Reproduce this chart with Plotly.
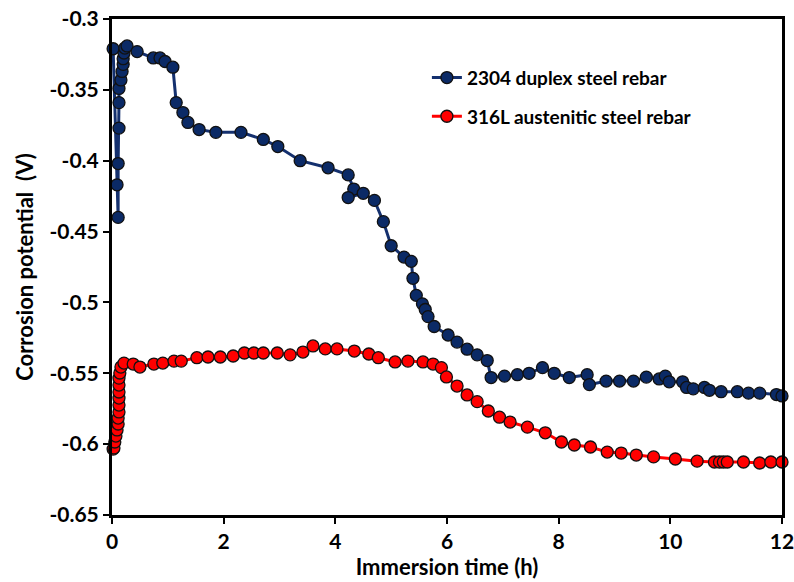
import plotly.graph_objects as go

# 2304 duplex steel rebar
duplex_t = [0.02, 0.09, 0.11, 0.11, 0.125, 0.125, 0.125, 0.16, 0.18, 0.2, 0.2, 0.215, 0.23, 0.27,
            0.45, 0.74, 0.86, 0.95, 1.09, 1.15, 1.27, 1.36, 1.56, 1.86, 2.31, 2.71, 2.97, 3.37,
            3.87, 4.23, 4.33, 4.23, 4.5, 4.7, 4.86, 5.0, 5.23, 5.36, 5.39, 5.45, 5.56, 5.61,
            5.66, 5.77, 6.02, 6.18, 6.36, 6.54, 6.72, 6.79, 7.03, 7.26, 7.47, 7.71, 7.92,
            8.19, 8.51, 8.55, 8.85, 9.09, 9.34, 9.57, 9.8, 9.91, 9.98, 10.22, 10.29, 10.41,
            10.61, 10.7, 10.91, 11.2, 11.4, 11.6, 11.9, 12.0]
duplex_v = [-0.321, -0.417, -0.440, -0.402, -0.377, -0.359, -0.349, -0.343, -0.337, -0.332, -0.328,
            -0.324, -0.3205, -0.319, -0.323, -0.3275, -0.3275, -0.330, -0.334, -0.359, -0.366,
            -0.373, -0.378, -0.380, -0.380, -0.385, -0.390, -0.400, -0.405, -0.410, -0.420,
            -0.426, -0.423, -0.428, -0.443, -0.460, -0.468, -0.471, -0.483, -0.495, -0.501,
            -0.505, -0.510, -0.517, -0.523, -0.528, -0.533, -0.537, -0.541, -0.553, -0.552,
            -0.551, -0.550, -0.546, -0.550, -0.553, -0.551, -0.558, -0.5555, -0.5555, -0.5555,
            -0.5527, -0.554, -0.552, -0.556, -0.556, -0.560, -0.561, -0.560, -0.562, -0.563,
            -0.563, -0.564, -0.564, -0.565, -0.566]

# 316L austenitic steel rebar
aust_t = [0.02, 0.035, 0.05, 0.07, 0.09, 0.11, 0.11, 0.125, 0.125, 0.125, 0.125, 0.125, 0.125,
          0.14, 0.16, 0.215, 0.38, 0.5, 0.75, 0.91, 1.11, 1.24, 1.52, 1.72, 1.94, 2.17, 2.37,
          2.54, 2.71, 2.96, 3.19, 3.42, 3.6, 3.82, 4.03, 4.34, 4.6, 4.77, 5.07, 5.3, 5.57,
          5.75, 5.9, 5.99, 6.18, 6.36, 6.54, 6.74, 6.94, 7.13, 7.44, 7.76, 8.05, 8.28, 8.57,
          8.87, 9.12, 9.39, 9.7, 10.09, 10.48, 10.79, 10.88, 10.95, 11.02, 11.31, 11.6, 11.8, 12.0]
aust_v = [-0.6035, -0.6027, -0.5985, -0.5943, -0.590, -0.5858, -0.5816, -0.5773, -0.5724, -0.5675,
          -0.5632, -0.5583, -0.5534, -0.5498, -0.5456, -0.5428, -0.5435, -0.5456, -0.5435,
          -0.5428, -0.5414, -0.5414, -0.539, -0.5385, -0.5385, -0.5378, -0.5357, -0.5357,
          -0.5357, -0.5357, -0.537, -0.535, -0.5307, -0.5328, -0.5328, -0.5343, -0.5364,
          -0.539, -0.542, -0.5414, -0.542, -0.5435, -0.546, -0.5526, -0.559, -0.5653, -0.570,
          -0.5766, -0.581, -0.5844, -0.588, -0.592, -0.5985, -0.6006, -0.602, -0.6056,
          -0.6063, -0.6077, -0.609, -0.6105, -0.612, -0.6126, -0.6126, -0.6126, -0.6126,
          -0.6126, -0.6133, -0.6126, -0.6126]

series_names = ["2304 duplex steel rebar", "316L austenitic steel rebar"]
x_ticks = [0, 2, 4, 6, 8, 10, 12]
y_tick_vals = [-0.3, -0.35, -0.4, -0.45, -0.5, -0.55, -0.6, -0.65]
y_tick_text = ["-0.3", "-0.35", "-0.4", "-0.45", "-0.5", "-0.55", "-0.6", "-0.65"]

FONT = "Lato, 'Open Sans', sans-serif"

fig = go.Figure()
fig.add_trace(go.Scatter(
    x=duplex_t, y=duplex_v, mode="lines+markers", name=series_names[0],
    legendgroup="a",
    line=dict(color="#14306e", width=3),
    marker=dict(size=12, color="#0b2a66", line=dict(color="#111111", width=1.3)),
    cliponaxis=False,
))
fig.add_trace(go.Scatter(
    x=aust_t, y=aust_v, mode="lines+markers", name=series_names[1],
    legendgroup="b",
    line=dict(color="#ff0000", width=3),
    marker=dict(size=12, color="#ff0000", line=dict(color="#111111", width=1.3)),
    cliponaxis=False,
))

axis_common = dict(
    showline=True, linecolor="black", linewidth=3, mirror=True,
    ticks="outside", tickcolor="black", tickwidth=2, ticklen=6,
    showgrid=False, zeroline=False, automargin=False,
    ticklabeloverflow="allow",
    tickfont=dict(family=FONT, size=21, color="black", weight="bold"),
)

fig.update_layout(
    width=794, height=582,
    margin=dict(l=112, r=12, t=19, b=67),
    paper_bgcolor="white", plot_bgcolor="white",
    font=dict(family=FONT, color="black"),
    xaxis=dict(
        range=[0, 12], tickvals=x_ticks,
        title=dict(text="<b>Immersion time (h)</b>", font=dict(family=FONT, size=22, color="black"), standoff=4),
        **axis_common,
    ),
    yaxis=dict(
        range=[-0.65, -0.3], tickvals=y_tick_vals, ticktext=y_tick_text,
        title=dict(text="<b>Corrosion potential  (V)</b>", font=dict(family=FONT, size=22, color="black"), standoff=10),
        **axis_common,
    ),
    legend=dict(
        x=0.47, y=0.92, xanchor="left", yanchor="top",
        font=dict(family=FONT, size=19, color="black", weight="bold"),
        traceorder="grouped", tracegroupgap=11, bgcolor="rgba(0,0,0,0)",
    ),
    showlegend=True,
)

# remove the browser's default 8px body margin so the figure fills the window exactly
fig.write_html(
    "out.html",
    config={"displayModeBar": False},
    post_script="document.body.style.margin='0';document.body.style.overflow='hidden';",
)
